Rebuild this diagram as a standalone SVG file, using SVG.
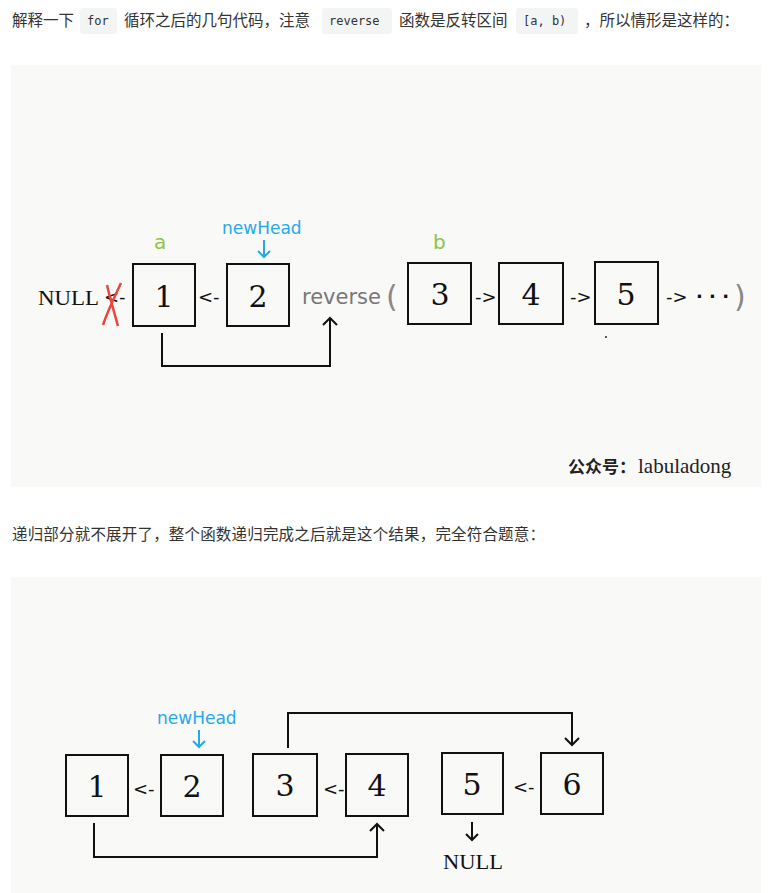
<svg xmlns="http://www.w3.org/2000/svg" width="773" height="893" viewBox="0 0 773 893">
<style>
.p{font-family:"Noto Sans CJK SC","Noto Sans",sans-serif;font-size:15.5px;fill:#333}
.code{font-family:"DejaVu Sans Mono","Liberation Mono",monospace;font-size:12px;fill:#333}
.cbg{fill:#f3f4f4}
.bg{fill:#f9f9f8}
.box{fill:none;stroke:#111;stroke-width:2}
.num{font-family:"DejaVu Serif","Liberation Serif",serif;font-size:30px;fill:#111;text-anchor:middle}
.ar{font-family:"DejaVu Sans","Liberation Sans",sans-serif;font-size:18px;fill:#111}
.null{font-family:"Liberation Serif","DejaVu Serif",serif;font-size:21px;fill:#111}
.blue{font-family:"DejaVu Sans","Liberation Sans",sans-serif;font-size:17px;fill:#26a9e9}
.green{font-family:"DejaVu Sans","Liberation Sans",sans-serif;font-size:20px;fill:#8dc63f}
.gray{font-family:"DejaVu Sans","Liberation Sans",sans-serif;font-size:21px;fill:#777}
.wire{fill:none;stroke:#111;stroke-width:2}
.bw{fill:none;stroke:#26a9e9;stroke-width:2}
</style>
<rect width="773" height="893" fill="#fff"/>
<!-- paragraph 1 -->
<rect class="cbg" x="80" y="8" width="37" height="26" rx="3"/>
<rect class="cbg" x="322" y="8" width="70" height="26" rx="3"/>
<rect class="cbg" x="516" y="8" width="62" height="26" rx="3"/>
<text class="p" x="12" y="26">解释一下</text>
<text class="code" x="87" y="25">for</text>
<text class="p" x="124" y="26">循环之后的几句代码，注意</text>
<text class="code" x="329" y="25">reverse</text>
<text class="p" x="399" y="26">函数是反转区间</text>
<text class="code" x="523" y="25">[a, b)</text>
<text class="p" x="584" y="26">，所以情形是这样的：</text>
<!-- image 1 -->
<rect class="bg" x="11" y="65" width="750" height="422"/>
<g id="n1"><rect class="box" x="133" y="264" width="62" height="62"/><text class="num" x="164" y="307">1</text></g>
<g id="n2"><rect class="box" x="227" y="264" width="62" height="62"/><text class="num" x="258" y="307">2</text></g>
<g id="n3"><rect class="box" x="408" y="263" width="63" height="61"/><text class="num" x="440" y="305">3</text></g>
<g id="n4"><rect class="box" x="499" y="263" width="64" height="61"/><text class="num" x="531" y="305">4</text></g>
<g id="n5"><rect class="box" x="595" y="262" width="63" height="62"/><text class="num" x="626" y="305">5</text></g>
<g id="labels1">
<text class="null" x="38" y="305" textLength="61" lengthAdjust="spacingAndGlyphs">NULL</text>
<text class="ar" x="104" y="303">&lt;-</text>
<path d="M107,285 C110,298 114,312 118,326 M121,283 C115,296 108,310 103,325" fill="none" stroke="#e8463f" stroke-width="2.5"/>
<text class="ar" x="198" y="303">&lt;-</text>
<text class="gray" x="302" y="304">reverse</text>
<text x="386" y="307" style="font-family:'DejaVu Sans',sans-serif;font-size:30px;fill:#888">(</text>
<text class="ar" x="475" y="303">-&gt;</text>
<text class="ar" x="570" y="303">-&gt;</text>
<text class="ar" x="666" y="303">-&gt;</text>
<text class="ar" x="696" y="303" style="font-weight:bold">· · ·</text>
<text x="734" y="307" style="font-family:'DejaVu Sans',sans-serif;font-size:30px;fill:#888">)</text>
<text class="green" x="154" y="249">a</text>
<text class="green" x="433" y="249">b</text>
<text class="blue" x="222" y="234">newHead</text>
<circle cx="606" cy="337" r="1" fill="#222"/>
<text x="568" y="473" style="font-family:'Noto Sans CJK SC',sans-serif;font-size:17px;font-weight:bold;fill:#222">公众号：</text>
<text x="638" y="473" style="font-family:'Liberation Serif',serif;font-size:21px;fill:#222">labuladong</text>
</g>
<g id="connectors1">
<path class="bw" d="M264,240 V257 M258,251 L264,257 L270,251"/>
<path class="wire" d="M162,333 V366 H330 V318 M323,325 L330,318 L337,325"/>
</g>
<!-- paragraph 2 -->
<text class="p" x="12" y="540" textLength="533" lengthAdjust="spacing">递归部分就不展开了，整个函数递归完成之后就是这个结果，完全符合题意：</text>
<!-- image 2 -->
<rect class="bg" x="11" y="577" width="750" height="316"/>
<g id="m1"><rect class="box" x="66" y="755" width="62" height="61"/><text class="num" x="97" y="797">1</text></g>
<g id="m2"><rect class="box" x="161" y="755" width="62" height="61"/><text class="num" x="192" y="797">2</text></g>
<g id="m3"><rect class="box" x="253" y="754" width="64" height="62"/><text class="num" x="285" y="796">3</text></g>
<g id="m4"><rect class="box" x="346" y="754" width="62" height="62"/><text class="num" x="377" y="796">4</text></g>
<g id="m5"><rect class="box" x="442" y="753" width="61" height="61"/><text class="num" x="472" y="795">5</text></g>
<g id="m6"><rect class="box" x="541" y="753" width="62" height="61"/><text class="num" x="572" y="795">6</text></g>
<g id="labels2">
<text class="ar" x="133" y="795">&lt;-</text>
<text class="ar" x="323" y="795">&lt;-</text>
<text class="ar" x="513" y="793">&lt;-</text>
<text class="blue" x="157" y="724">newHead</text>
<text class="null" x="443" y="869" textLength="60" lengthAdjust="spacingAndGlyphs">NULL</text>
</g>
<g id="connectors2">
<path class="bw" d="M199,730 V747 M193,741 L199,747 L205,741"/>
<path class="wire" d="M288,748 V713 H572 V745 M565,738 L572,745 L579,738"/>
<path class="wire" d="M94,823 V857 H377 V824 M370,831 L377,824 L384,831"/>
<path class="wire" d="M472,822 V840 M466,834 L472,840 L478,834"/>
</g>
</svg>
